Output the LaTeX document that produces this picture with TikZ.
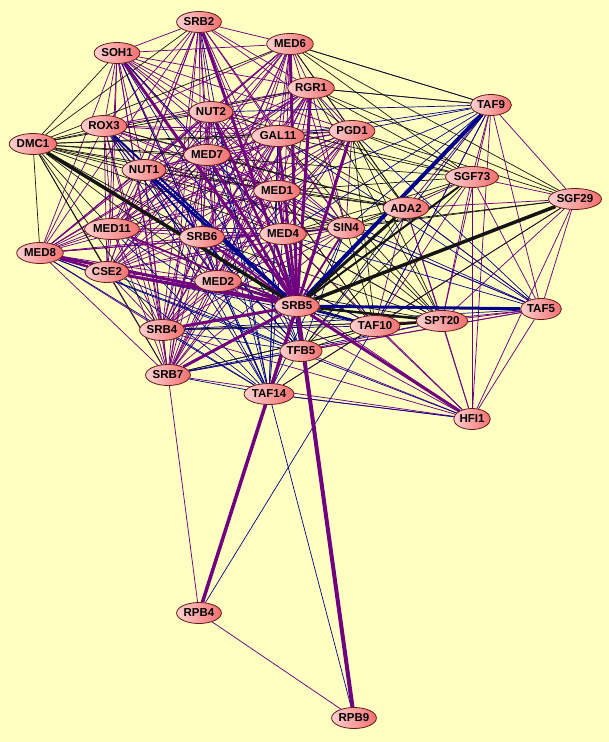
\documentclass[tikz,border=0pt]{standalone}
\usepackage{fontspec}
\setmainfont{Liberation Sans}
\usetikzlibrary{shapes.geometric}
\pgfdeclarelayer{bg}
\pgfdeclarelayer{edges}
\pgfsetlayers{bg,edges,main}
\definecolor{bgc}{RGB}{255,255,194}
\definecolor{purp}{RGB}{112,0,128}
\definecolor{navy}{RGB}{0,0,140}
\definecolor{blk}{RGB}{20,20,20}
\definecolor{pinkL}{RGB}{255,208,208}
\definecolor{pinkR}{RGB}{242,112,112}
\definecolor{nborder}{RGB}{100,25,25}
\tikzset{
  gene/.style={ellipse, draw=nborder, line width=0.8pt, left color=pinkL, right color=pinkR,
    inner xsep=0.5pt, inner ysep=0pt, minimum height=21pt,
    font=\bfseries\fontsize{11.5}{13}\selectfont, text=black},
  pe/.style={draw=purp, line width=0.75pt},
  be/.style={draw=navy, line width=0.7pt},
  ke/.style={draw=blk, line width=0.7pt},
}
\begin{document}
\begin{tikzpicture}[x=1pt,y=-1pt]
\begin{pgfonlayer}{bg}
\fill[bgc] (0,0) rectangle (609,742);
\end{pgfonlayer}
\useasboundingbox (0,0) rectangle (609,742);
% nodes
\node[gene] (SRB2) at (199,22) {SRB2};
\node[gene] (SOH1) at (117,53) {SOH1};
\node[gene] (MED6) at (290,44) {MED6};
\node[gene] (RGR1) at (311,88) {RGR1};
\node[gene] (TAF9) at (491,105) {TAF9};
\node[gene] (NUT2) at (211,112) {NUT2};
\node[gene] (ROX3) at (104,126) {ROX3};
\node[gene] (DMC1) at (33,144) {DMC1};
\node[gene] (GAL11) at (278,136) {GAL11};
\node[gene] (PGD1) at (352,131) {PGD1};
\node[gene] (MED7) at (207,155) {MED7};
\node[gene] (NUT1) at (144,170) {NUT1};
\node[gene] (SGF73) at (472,177) {SGF73};
\node[gene] (MED1) at (277,191) {MED1};
\node[gene] (SGF29) at (575,199) {SGF29};
\node[gene] (ADA2) at (406,208) {ADA2};
\node[gene] (MED11) at (112,229) {MED11};
\node[gene] (SIN4) at (346,228) {SIN4};
\node[gene] (SRB6) at (202,237) {SRB6};
\node[gene] (MED4) at (283,234) {MED4};
\node[gene] (MED8) at (40,253) {MED8};
\node[gene] (CSE2) at (107,272) {CSE2};
\node[gene] (MED2) at (218,281) {MED2};
\node[gene] (SRB5) at (297,306) {SRB5};
\node[gene] (TAF5) at (541,309) {TAF5};
\node[gene] (SPT20) at (442,321) {SPT20};
\node[gene] (TAF10) at (375,326) {TAF10};
\node[gene] (SRB4) at (162,330) {SRB4};
\node[gene] (TFB5) at (301,351) {TFB5};
\node[gene] (SRB7) at (168,375) {SRB7};
\node[gene] (TAF14) at (269,394) {TAF14};
\node[gene] (HFI1) at (472,419) {HFI1};
\node[gene] (RPB4) at (199,613) {RPB4};
\node[gene] (RPB9) at (354,718) {RPB9};
\def\Mlist{SRB2,SOH1,MED6,RGR1,NUT2,ROX3,GAL11,PGD1,MED7,NUT1,MED1,MED11,SIN4,SRB6,MED4,MED8,CSE2,MED2,SRB5,SRB4,SRB7}
\def\Slist{TAF9,SGF73,SGF29,ADA2,SPT20,TAF10,TAF5,HFI1}
\begin{pgfonlayer}{edges}
% thin purple: mediator clique
\foreach \a [count=\i] in \Mlist {
  \foreach \b [count=\j] in \Mlist {
    \ifnum\j>\i \draw[pe] (\a) -- (\b); \fi
  }
}
% thin purple: SAGA clique
\foreach \a [count=\i] in \Slist {
  \foreach \b [count=\j] in \Slist {
    \ifnum\j>\i \draw[pe] (\a) -- (\b); \fi
  }
}
\foreach \a/\b in {TAF14/HFI1, TFB5/HFI1, TFB5/TAF5, TFB5/SPT20, SRB7/TAF5, SRB4/SPT20,
  SRB6/HFI1, MED4/HFI1, MED2/HFI1, SRB4/HFI1, SRB7/HFI1, SRB7/RPB4, RPB4/RPB9,
  TAF14/TAF10, SRB5/SGF73, SIN4/TAF5, MED4/SPT20, MED1/TAF10, SRB6/TAF10}
  \draw[pe] (\a) -- (\b);
% thin blue
\foreach \b in {MED6,RGR1,PGD1,GAL11,MED1,SIN4,MED4,TAF10,TFB5,NUT2}
  \draw[be] (TAF9) -- (\b);
\foreach \b in {SRB4,SRB7,CSE2,MED8,MED11,NUT1,ROX3,SRB6,MED2,MED4,MED1,SIN4,TFB5,MED7,NUT2,SOH1,SRB2,GAL11,HFI1,RPB9}
  \draw[be] (TAF14) -- (\b);
\foreach \b in {SRB4,SRB7,CSE2,MED8,MED11,NUT1,ROX3,SRB6,MED2,MED1,MED4,MED7,NUT2,SIN4,SOH1}
  \draw[be] (TFB5) -- (\b);
\foreach \b in {SIN4,MED4,MED1,GAL11,PGD1,SRB4,ADA2}
  \draw[be] (TAF5) -- (\b);
\foreach \b in {SRB4,SRB7,CSE2,MED2,SRB6,RPB4}
  \draw[be] (TAF10) -- (\b);
\foreach \a/\b in {SPT20/SRB7, HFI1/MED8, SOH1/MED4, ROX3/MED2, NUT1/SRB6}
  \draw[be] (\a) -- (\b);
% thin black
\foreach \b in \Mlist
  \draw[ke] (DMC1) -- (\b);
\foreach \b in {SGF73,ADA2}
  \draw[ke] (DMC1) -- (\b);
\foreach \b in {MED6,RGR1,PGD1,GAL11,MED1,SIN4,MED4,NUT1,MED7,ROX3}
  \draw[ke] (ADA2) -- (\b);
\foreach \b in {MED6,RGR1,PGD1,GAL11,MED1,SIN4,MED4,NUT2}
  \draw[ke] (SGF73) -- (\b);
\foreach \b in {MED6,RGR1,PGD1,MED4,SIN4,TAF14}
  \draw[ke] (SGF29) -- (\b);
\foreach \b in {RGR1,PGD1,GAL11,MED1,SIN4,MED4,SRB6,MED2,SRB4}
  \draw[ke] (SPT20) -- (\b);
\foreach \b in {MED4,MED1,SIN4,TFB5,SRB7,MED2,PGD1}
  \draw[ke] (TAF10) -- (\b);
\foreach \b in {SGF73,ADA2}
  \draw[ke] (TFB5) -- (\b);
\draw[ke] (MED6) -- (TAF9);
\draw[ke] (RGR1) -- (TAF9);
% thick edges
\foreach \a/\w in {SRB2/3, SOH1/3, MED6/3, RGR1/3, PGD1/3, NUT2/2.5, MED7/2.5, MED1/2,
  GAL11/2.5, MED4/2, SIN4/1.8, MED8/3, CSE2/3, MED2/2.5, SRB4/3, SRB7/3, SRB6/2, MED11/1.8}
  \draw[draw=purp, line width=\w pt] (\a) -- (SRB5);
\draw[draw=purp, line width=2.5pt] (MED8) -- (CSE2);
\draw[draw=purp, line width=3pt] (SRB5) -- (HFI1);
\draw[draw=purp, line width=3.5pt] (SRB5) -- (RPB4);
\draw[draw=purp, line width=4pt] (SRB5) -- (RPB9);
\draw[draw=navy, line width=4pt] (TAF9) -- (SRB5);
\draw[draw=navy, line width=3pt] (SRB5) -- (TAF5);
\draw[draw=navy, line width=3pt] (NUT1) -- (SRB5);
\draw[draw=navy, line width=2pt] (ROX3) -- (SRB5);
\draw[draw=navy, line width=2pt] (TAF10) -- (SRB5);
\draw[draw=blk, line width=3.5pt] (DMC1) -- (SRB5);
\draw[draw=blk, line width=3.5pt] (SRB5) -- (SGF29);
\draw[draw=blk, line width=3pt] (SRB5) -- (ADA2);
\draw[draw=blk, line width=2pt] (SRB5) -- (SGF73);
\draw[draw=blk, line width=2.5pt] (SRB5) -- (SPT20);
\draw[draw=blk, line width=2pt] (TAF10) -- (SPT20);
\end{pgfonlayer}
\end{tikzpicture}
\end{document}
